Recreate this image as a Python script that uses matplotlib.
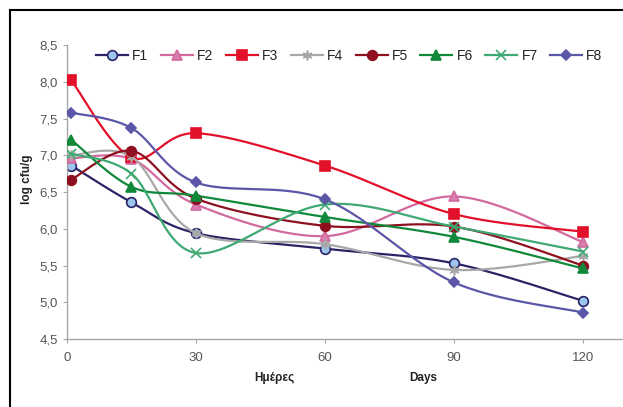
import numpy as np
import matplotlib.pyplot as plt
from matplotlib.lines import Line2D
from matplotlib.ticker import FuncFormatter

plt.rcParams['font.family'] = ['Liberation Sans', 'DejaVu Sans']

days = [1, 15, 30, 60, 90, 120]
names = ['F1', 'F2', 'F3', 'F4', 'F5', 'F6', 'F7', 'F8']

F1 = [6.86, 6.36, 5.94, 5.73, 5.53, 5.02]
F2 = [6.96, 6.95, 6.33, 5.90, 6.44, 5.82]
F3 = [8.02, 6.97, 7.30, 6.86, 6.20, 5.96]
F4 = [7.00, 6.98, 5.94, 5.79, 5.44, 5.63]
F5 = [6.67, 7.06, 6.41, 6.04, 6.03, 5.50]
F6 = [7.21, 6.57, 6.45, 6.16, 5.89, 5.46]
F7 = [7.02, 6.75, 5.67, 6.33, 6.03, 5.69]
F8 = [7.58, 7.37, 6.63, 6.40, 5.27, 4.86]
series = [F1, F2, F3, F4, F5, F6, F7, F8]

# стиль каждой серии: цвет линии, маркер, размер, заливка маркера, край маркера
styles = [
    ('#2a2466', 'o', 7, '#9cc6ee', '#2a2466'),
    ('#d2699f', '^', 7, '#d97fb0', '#d2699f'),
    ('#e3102a', 's', 7, '#e3102a', '#e3102a'),
    ('#a8a8a8', (6, 2, 0), 7, '#a8a8a8', '#a8a8a8'),
    ('#8e1020', 'o', 7, '#8e1020', '#8e1020'),
    ('#11893b', '^', 7, '#11893b', '#11893b'),
    ('#40a873', 'x', 7, '#40a873', '#40a873'),
    ('#5b56a8', 'D', 5.5, '#5b56a8', '#5b56a8'),
]


def smooth(x, y, n=30):
    # сглаживание как в Excel (Безье с контрольными точками 1/6)
    x = np.asarray(x, float)
    y = np.asarray(y, float)
    px = np.concatenate([[x[0]], x, [x[-1]]])
    py = np.concatenate([[y[0]], y, [y[-1]]])
    t = np.linspace(0, 1, n)
    xs, ys = [], []
    for i in range(1, len(px) - 2):
        p0 = np.array([px[i], py[i]])
        p3 = np.array([px[i + 1], py[i + 1]])
        p1 = p0 + (p3 - np.array([px[i - 1], py[i - 1]])) / 6
        p2 = p3 - (np.array([px[i + 2], py[i + 2]]) - p0) / 6
        b = ((1 - t) ** 3)[:, None] * p0 + (3 * (1 - t) ** 2 * t)[:, None] * p1 \
            + (3 * (1 - t) * t ** 2)[:, None] * p2 + (t ** 3)[:, None] * p3
        xs.append(b[:, 0])
        ys.append(b[:, 1])
    return np.concatenate(xs), np.concatenate(ys)


fig = plt.figure(figsize=(6.23, 4.07), dpi=100)
ax = fig.add_axes([0.1075, 0.167, 0.8925, 0.7224])

handles = []
for i, (name, vals) in enumerate(zip(names, series)):
    col, mk, ms, fc, ec = styles[i]
    sx, sy = smooth(days, vals)
    ax.plot(sx, sy, color=col, lw=1.6, zorder=2 + i)
    ax.plot(days, vals, ls='none', marker=mk, ms=ms, mfc=fc, mec=ec, mew=1.2,
            zorder=2 + i)
    handles.append(Line2D([], [], color=col, lw=1.6, marker=mk, ms=ms,
                          mfc=fc, mec=ec, mew=1.2))

ax.set_xlim(0, 129.3)
ax.set_ylim(4.5, 8.5)
ax.set_xticks([0, 30, 60, 90, 120])
ax.set_yticks(np.arange(4.5, 8.51, 0.5))
ax.yaxis.set_major_formatter(FuncFormatter(lambda v, p: f'{v:.1f}'.replace('.', ',')))

for s in ['top', 'right']:
    ax.spines[s].set_visible(False)
for s in ['left', 'bottom']:
    ax.spines[s].set_color('#a6a6a6')
    ax.spines[s].set_linewidth(1.0)
ax.tick_params(colors='#a6a6a6', labelcolor='#555555', labelsize=9.5,
               length=3, direction='out')
ax.tick_params(axis='x', pad=6)

ax.legend(handles, names, ncol=8, loc='upper left', bbox_to_anchor=(0.03, 1.03),
          frameon=False, fontsize=10, handlelength=2.3, handletextpad=0.3,
          columnspacing=0.9, labelcolor='#222222')

fig.text(0.044, 0.56, 'log cfu/g', rotation=90, fontsize=8.5, fontweight='bold',
         ha='center', va='center', color='#222222')
fig.text(0.441, 0.071, 'Ημέρες', fontsize=8.5, fontweight='bold',
         ha='center', va='center', color='#222222')
fig.text(0.679, 0.071, 'Days', fontsize=8.5, fontweight='bold',
         ha='center', va='center', color='#222222')

# рамка вокруг рисунка (видны только левый и верхний края)
fig.add_artist(Line2D([10 / 623, 10 / 623], [0, 1 - 10 / 407], color='black', lw=1.5,
                      transform=fig.transFigure))
fig.add_artist(Line2D([10 / 623, 1], [1 - 10 / 407, 1 - 10 / 407], color='black', lw=1.5,
                      transform=fig.transFigure))

fig.savefig('out.png', dpi=100)
